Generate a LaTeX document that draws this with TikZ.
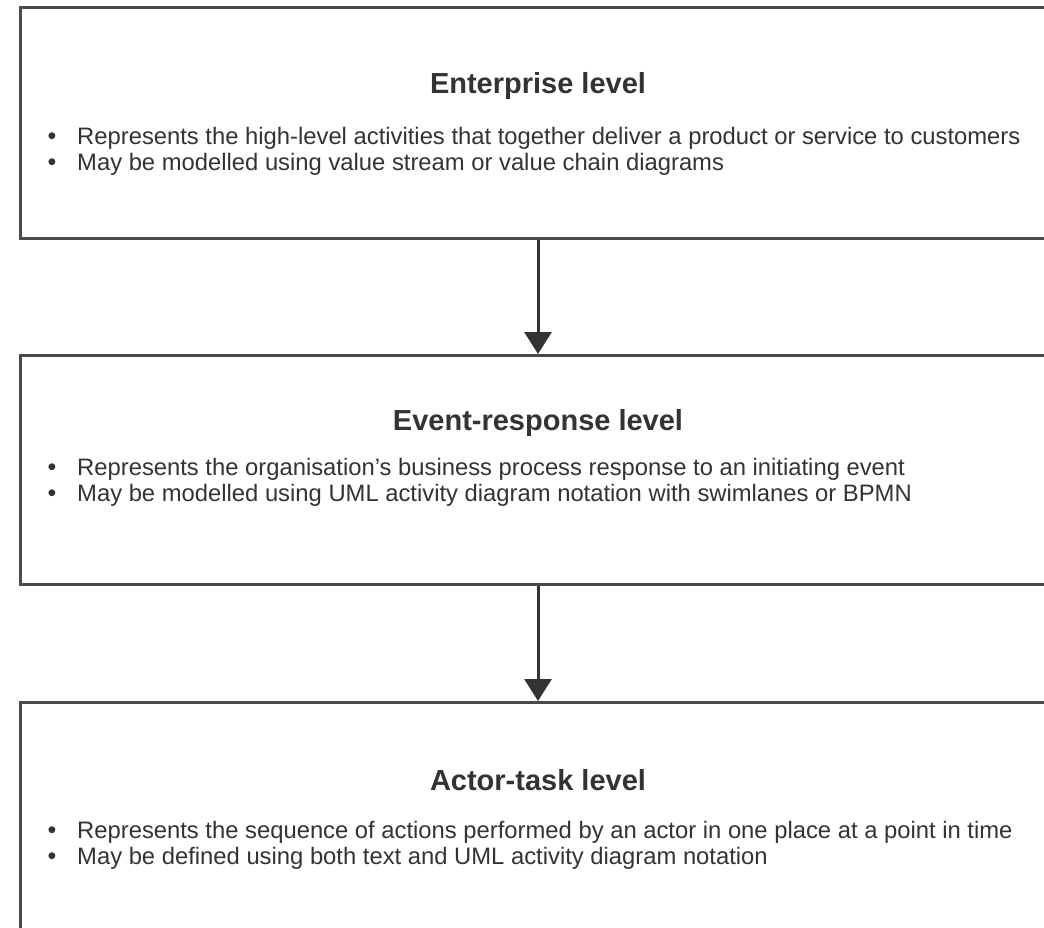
\documentclass[tikz,border=0pt]{standalone}
\usepackage{fontspec}
\setmainfont{Liberation Sans}
\usetikzlibrary{arrows.meta}
\definecolor{ink}{HTML}{333333}
\definecolor{frame}{HTML}{4A4A4A}
\tikzset{
  levelbox/.style={draw=frame, line width=3pt, fill=white, inner sep=0pt},
  title/.style={anchor=base, inner sep=0pt, text=ink, font=\fontsize{29}{32}\selectfont\bfseries},
  item/.style={anchor=base west, inner sep=0pt, text=ink, font=\fontsize{23.8}{26}\selectfont},
  dot/.style={anchor=base, inner sep=0pt, text=ink, font=\fontsize{25}{26}\selectfont},
  flow/.style={draw=ink, line width=3pt, -{Triangle[width=27pt,length=22pt]}}
}
\begin{document}
\begin{tikzpicture}[x=1pt,y=-1pt]
  \useasboundingbox (0,0) rectangle (1044,928);
  \clip (0,0) rectangle (1044,928);
  \fill[white] (0,0) rectangle (1044,928);

  % three stacked levels
  \node[levelbox, minimum width=1060pt, minimum height=231pt, anchor=north west] (b1) at (19,6) {};
  \node[levelbox, minimum width=1060pt, minimum height=229pt, anchor=north west] (b2) at (19,354) {};
  \node[levelbox, minimum width=1060pt, minimum height=260pt, anchor=north west] (b3) at (19,701) {};

  % enterprise level
  \node[title] (t1) at (538,94) {Enterprise level};
  \node[dot] (d11) at (52,145) {•};
  \node[item] (i11) at (77,145) {Represents the high-level activities that together deliver a product or service to customers};
  \node[dot] (d12) at (52,171) {•};
  \node[item] (i12) at (77,171) {May be modelled using value stream or value chain diagrams};

  % event-response level
  \node[title] (t2) at (538,430) {Event-response level};
  \node[dot] (d21) at (52,475) {•};
  \node[item] (i21) at (77,475) {Represents the organisation’s business process response to an initiating event};
  \node[dot] (d22) at (52,501) {•};
  \node[item] (i22) at (77,501) {May be modelled using UML activity diagram notation with swimlanes or BPMN};

  % actor-task level
  \node[title] (t3) at (538,790) {Actor-task level};
  \node[dot] (d31) at (52,838) {•};
  \node[item] (i31) at (77,838) {Represents the sequence of actions performed by an actor in one place at a point in time};
  \node[dot] (d32) at (52,864) {•};
  \node[item] (i32) at (77,864) {May be defined using both text and UML activity diagram notation};

  % refinement arrows
  \draw[flow] (b1.south -| t1) -- (b2.north -| t1);
  \draw[flow] (b2.south -| t2) -- (b3.north -| t2);
\end{tikzpicture}
\end{document}
